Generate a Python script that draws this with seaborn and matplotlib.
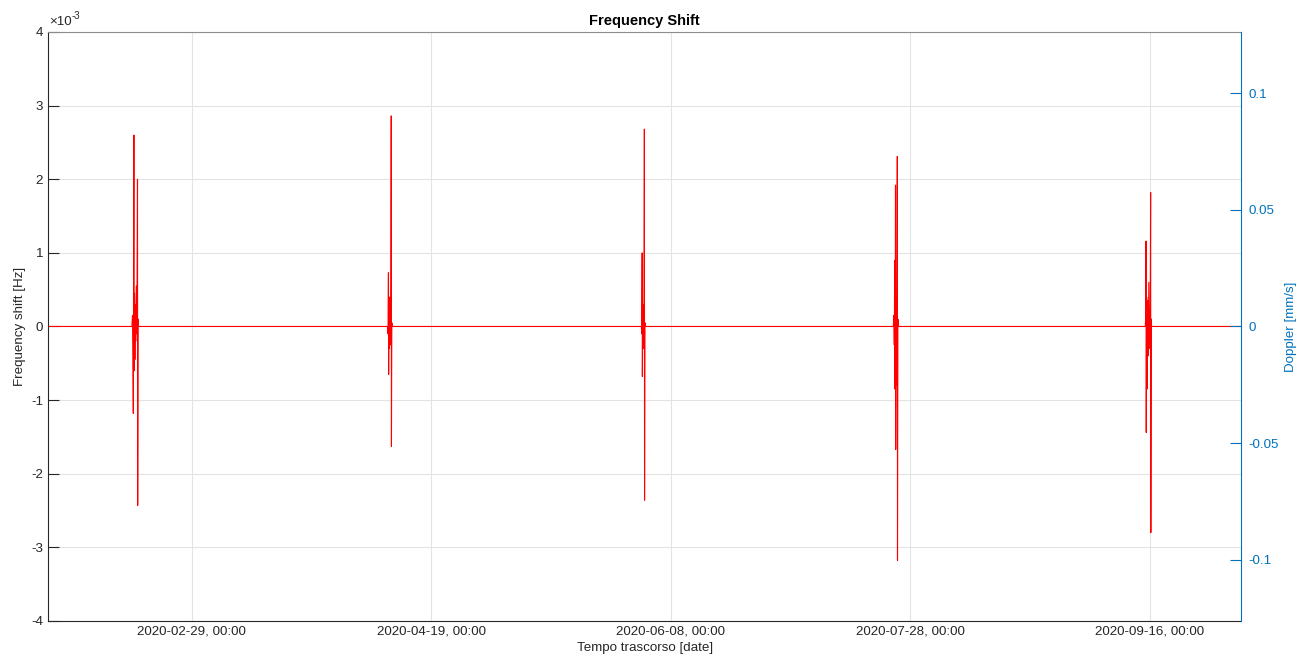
import matplotlib
matplotlib.use("Agg")
import matplotlib.pyplot as plt
import matplotlib.dates as mdates
import numpy as np
import pandas as pd
import seaborn as sns

# Time span of the record
t_start = "2020-01-30 00:00"
t_end = "2020-10-05 00:00"

# Frequency-shift bursts (values in 1e-3 Hz)
burst1_t = ["2020-02-16 12:00", "2020-02-16 15:00", "2020-02-16 17:00", "2020-02-16 19:00",
            "2020-02-16 20:00", "2020-02-16 22:00", "2020-02-16 23:00", "2020-02-17 01:00",
            "2020-02-17 03:00", "2020-02-17 05:00", "2020-02-17 07:00", "2020-02-17 10:00",
            "2020-02-17 13:00", "2020-02-17 16:00", "2020-02-17 17:00", "2020-02-17 19:00",
            "2020-02-17 21:00"]
burst1_v = [0, 0.15, -0.3, -1.18, 0.2, 2.6, -0.6, 0.45, -0.45, 0.3, -0.2, 0.55, -0.1,
            2.0, -2.43, 0.1, 0]

burst2_t = ["2020-04-09 20:00", "2020-04-09 23:00", "2020-04-10 01:00", "2020-04-10 02:00",
            "2020-04-10 04:00", "2020-04-10 06:00", "2020-04-10 08:00", "2020-04-10 10:00",
            "2020-04-10 13:00", "2020-04-10 15:00", "2020-04-10 16:00", "2020-04-10 18:00",
            "2020-04-10 20:00"]
burst2_v = [0, -0.1, 0.73, -0.65, 0.35, -0.3, 0.4, -0.25, 0.1, 2.86, -1.63, 0.05, 0]

burst3_t = ["2020-06-01 20:00", "2020-06-01 22:00", "2020-06-02 00:00", "2020-06-02 01:00",
            "2020-06-02 03:00", "2020-06-02 05:00", "2020-06-02 07:00", "2020-06-02 09:00",
            "2020-06-02 11:00", "2020-06-02 12:00", "2020-06-02 14:00", "2020-06-02 16:00"]
burst3_v = [0, -0.1, 1.0, -0.68, 0.3, -0.25, 0.3, -0.3, 2.68, -2.36, 0.05, 0]

burst4_t = ["2020-07-24 10:00", "2020-07-24 13:00", "2020-07-24 15:00", "2020-07-24 17:00",
            "2020-07-24 18:00", "2020-07-24 20:00", "2020-07-24 21:00", "2020-07-24 22:00",
            "2020-07-25 00:00", "2020-07-25 02:00", "2020-07-25 04:00", "2020-07-25 06:00",
            "2020-07-25 07:00", "2020-07-25 09:00", "2020-07-25 12:00"]
burst4_v = [0, 0.15, -0.25, 0.9, -0.85, 0.3, 1.92, -1.67, 0.4, -0.8, 0.3, 2.31, -3.18, 0.1, 0]

burst5_t = ["2020-09-15 00:00", "2020-09-15 02:00", "2020-09-15 04:00", "2020-09-15 05:00",
            "2020-09-15 07:00", "2020-09-15 09:00", "2020-09-15 12:00", "2020-09-15 15:00",
            "2020-09-15 18:00", "2020-09-15 21:00", "2020-09-16 01:00", "2020-09-16 03:00",
            "2020-09-16 04:00", "2020-09-16 06:00", "2020-09-16 08:00"]
burst5_v = [0, 0.1, 1.16, -1.44, 0.4, -0.85, 0.35, -0.4, 0.6, -0.3, 0.25, 1.82, -2.8, 0.1, 0]

# Axis settings
xtick_dates = ["2020-02-29", "2020-04-19", "2020-06-08", "2020-07-28", "2020-09-16"]
left_ticks = [-4, -3, -2, -1, 0, 1, 2, 3, 4]          # 1e-3 Hz
right_ticks = [-0.1, -0.05, 0, 0.05, 0.1]              # mm/s
right_labels = ["-0.1", "-0.05", "0", "0.05", "0.1"]
hz_per_mms = 3.166e-3 / 0.1                            # Hz corresponding to 1 mm/s

times = [t_start] + burst1_t + burst2_t + burst3_t + burst4_t + burst5_t + [t_end]
vals = [0] + burst1_v + burst2_v + burst3_v + burst4_v + burst5_v + [0]
df = pd.DataFrame({"time": pd.to_datetime(times), "shift": np.array(vals) * 1e-3})

sns.set_style("white")
plt.rcParams["font.family"] = ["Liberation Sans", "DejaVu Sans"]
plt.rcParams["axes.unicode_minus"] = False

fs = 9.6
tc = "#262626"
fig = plt.figure(figsize=(12.99, 6.66), dpi=100)
ax = fig.add_axes([0.037, 0.0676, 0.9184, 0.8844])

sns.lineplot(data=df, x="time", y="shift", ax=ax, color="#ff0000", linewidth=0.8,
             estimator=None, sort=False)

ax.set_xlim(pd.Timestamp(t_start), pd.Timestamp(t_end))
ax.set_ylim(-4e-3, 4e-3)
ax.set_yticks([v * 1e-3 for v in left_ticks])
ax.set_yticklabels([str(v) for v in left_ticks])
ax.set_xticks(pd.to_datetime(xtick_dates))
ax.xaxis.set_major_formatter(mdates.DateFormatter("%Y-%m-%d, %H:%M"))

# Exponent marker for the left axis
ax.annotate("\u00d710", xy=(0, 1), xycoords="axes fraction", xytext=(1, 3),
            textcoords="offset points", fontsize=fs, color=tc, ha="left", va="bottom")
ax.annotate("-3", xy=(0, 1), xycoords="axes fraction", xytext=(17, 8),
            textcoords="offset points", fontsize=7, color=tc, ha="left", va="bottom")

ax.grid(True, color="#e3e3e3", linewidth=0.8)
ax.tick_params(axis="both", direction="in", length=8, width=0.8, colors=tc, labelsize=fs)
ax.tick_params(axis="y", right=False)
for side in ["left", "bottom"]:
    ax.spines[side].set_color(tc)
    ax.spines[side].set_linewidth(0.8)
ax.spines["top"].set_color("#8c8c8c")
ax.spines["top"].set_linewidth(0.8)
ax.spines["right"].set_visible(False)

ax.set_xlabel("Tempo trascorso [date]", fontsize=fs, color=tc, labelpad=3)
ax.set_ylabel("Frequency shift [Hz]", fontsize=fs, color=tc, labelpad=4)
ax.set_title("Frequency Shift", fontsize=10.5, fontweight="bold", color="#000000", pad=5)

blue = "#0072BD"
ax2 = ax.twinx()
ax2.set_ylim(-4e-3 / hz_per_mms, 4e-3 / hz_per_mms)
ax2.set_yticks(right_ticks)
ax2.set_yticklabels(right_labels)
ax2.tick_params(axis="y", direction="in", length=8, width=0.8, colors=blue, labelsize=fs, pad=5)
for side in ["left", "top", "bottom"]:
    ax2.spines[side].set_visible(False)
ax2.spines["right"].set_color(blue)
ax2.spines["right"].set_linewidth(0.8)
ax2.set_ylabel("Doppler [mm/s]", fontsize=fs, color=blue, labelpad=5)
ax2.grid(False)

fig.savefig("out.png", dpi=100)
